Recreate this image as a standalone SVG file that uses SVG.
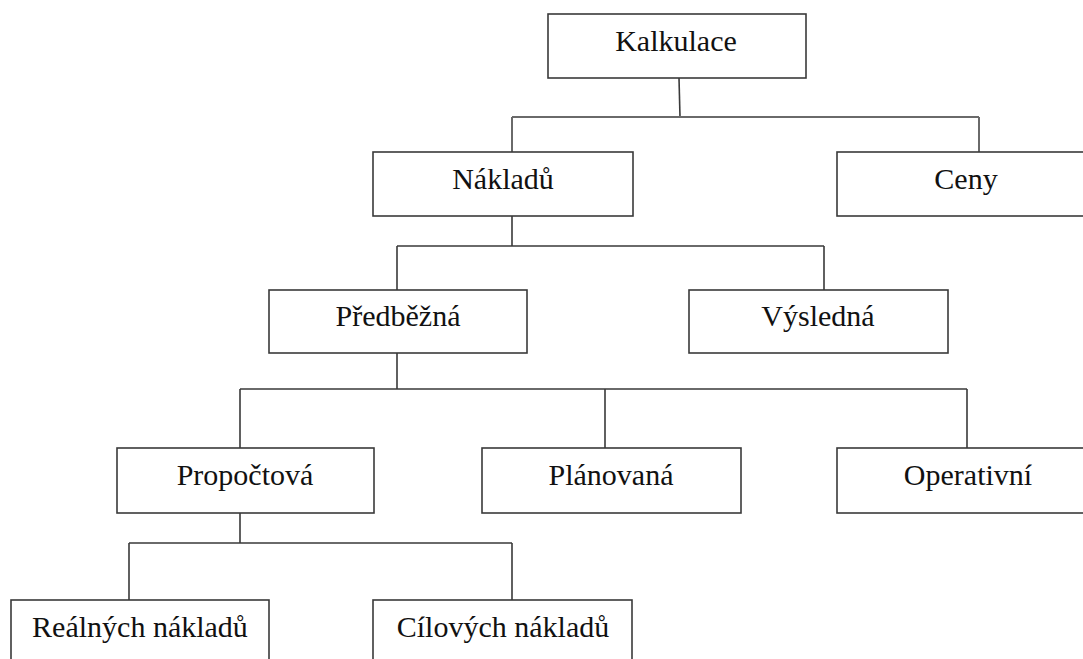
<svg xmlns="http://www.w3.org/2000/svg" width="1083" height="659" viewBox="0 0 1083 659">
<style>
.box{fill:#fff;stroke:#3a3a3a;stroke-width:1.6}
.lbl{font-family:"Liberation Serif","Times New Roman",serif;font-size:30px;fill:#111;text-anchor:middle}
.con{fill:none;stroke:#3a3a3a;stroke-width:1.6}
</style>
<rect width="1083" height="659" fill="#fff"/>
<g id="connectors">
<path class="con" d="M679,78 L680,117"/>
<path class="con" d="M512,117 H979 M512,117 V152 M979,117 V152" style="stroke:#6a6a6a;stroke-width:2"/>
<path class="con" d="M512,216 V246 M397,246 H824 M397,246 V290 M824,246 V290"/>
<path class="con" d="M397,353 V389 M240,389 H967 M240,389 V448 M605,389 V448 M967,389 V448"/>
<path class="con" d="M240,513 V543 M129,543 H512 M129,543 V600 M512,543 V600"/>
</g>
<g id="n-kalkulace"><rect class="box" x="548" y="14" width="258" height="64"/><text class="lbl" x="676" y="51">Kalkulace</text></g>
<g id="n-nakladu"><rect class="box" x="373" y="152" width="260" height="64"/><text class="lbl" x="503" y="189">Nákladů</text></g>
<g id="n-ceny"><rect class="box" x="837" y="152" width="260" height="64"/><text class="lbl" x="966" y="189">Ceny</text></g>
<g id="n-predbezna"><rect class="box" x="269" y="290" width="258" height="63"/><text class="lbl" x="398" y="326">Předběžná</text></g>
<g id="n-vysledna"><rect class="box" x="689" y="290" width="259" height="63"/><text class="lbl" x="818" y="326">Výsledná</text></g>
<g id="n-propoctova"><rect class="box" x="117" y="448" width="257" height="65"/><text class="lbl" x="245" y="485">Propočtová</text></g>
<g id="n-planovana"><rect class="box" x="482" y="448" width="259" height="65"/><text class="lbl" x="611" y="485">Plánovaná</text></g>
<g id="n-operativni"><rect class="box" x="837" y="448" width="262" height="65"/><text class="lbl" x="968" y="485">Operativní</text></g>
<g id="n-realnych"><rect class="box" x="11" y="600" width="258" height="70"/><text class="lbl" x="140" y="637">Reálných nákladů</text></g>
<g id="n-cilovych"><rect class="box" x="373" y="600" width="259" height="70"/><text class="lbl" x="503" y="637">Cílových nákladů</text></g>
</svg>
